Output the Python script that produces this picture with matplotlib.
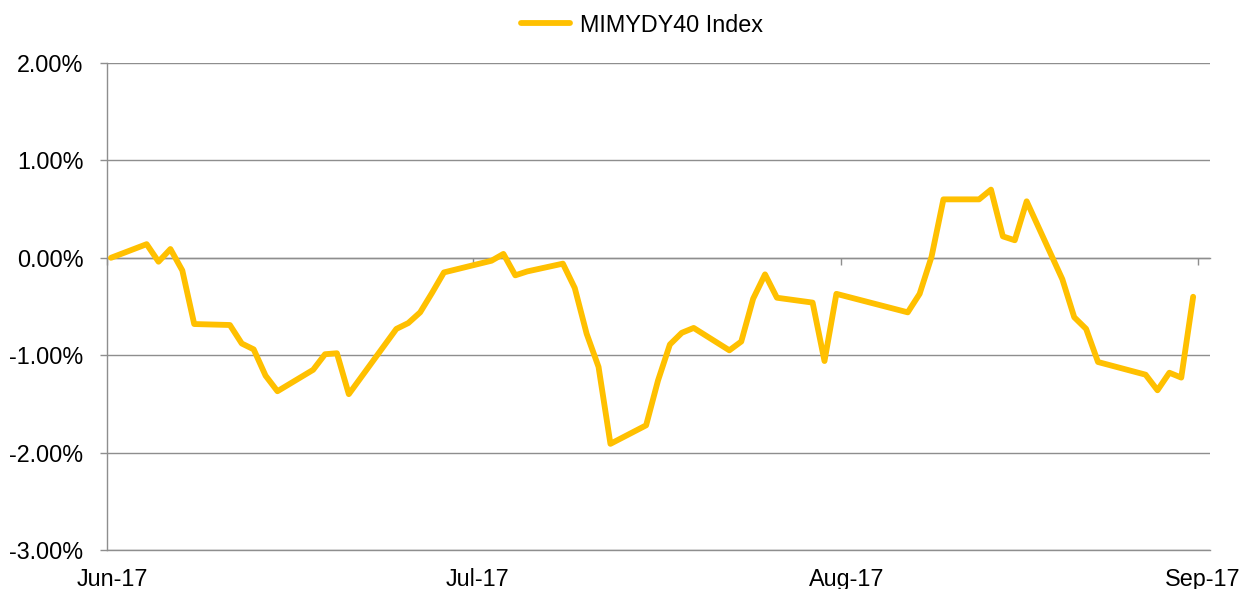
import numpy as np
import pandas as pd
import matplotlib
matplotlib.use("Agg")
import matplotlib.pyplot as plt
import matplotlib.transforms as mtransforms
from matplotlib.ticker import FuncFormatter

plt.rcParams["font.family"] = ["Liberation Sans", "DejaVu Sans"]

# daily values of the index, in percent
dates = [
    "2017-06-02", "2017-06-05", "2017-06-06", "2017-06-07", "2017-06-08", "2017-06-09",
    "2017-06-12", "2017-06-13", "2017-06-14", "2017-06-15", "2017-06-16",
    "2017-06-19", "2017-06-20", "2017-06-21", "2017-06-22",
    "2017-06-26", "2017-06-27", "2017-06-28", "2017-06-29", "2017-06-30",
    "2017-07-04", "2017-07-05", "2017-07-06", "2017-07-07",
    "2017-07-10", "2017-07-11", "2017-07-12", "2017-07-13", "2017-07-14",
    "2017-07-17", "2017-07-18", "2017-07-19", "2017-07-20", "2017-07-21",
    "2017-07-24", "2017-07-25", "2017-07-26", "2017-07-27", "2017-07-28",
    "2017-07-31", "2017-08-01", "2017-08-02",
    "2017-08-08", "2017-08-09", "2017-08-10", "2017-08-11",
    "2017-08-14", "2017-08-15", "2017-08-16", "2017-08-17", "2017-08-18",
    "2017-08-21", "2017-08-22", "2017-08-23", "2017-08-24",
    "2017-08-28", "2017-08-29", "2017-08-30", "2017-08-31", "2017-09-01",
]
werte = [
    0.00, 0.14, -0.04, 0.09, -0.13, -0.68,
    -0.69, -0.88, -0.94, -1.21, -1.37,
    -1.15, -0.99, -0.98, -1.40,
    -0.73, -0.67, -0.56, -0.36, -0.15,
    -0.03, 0.04, -0.18, -0.14,
    -0.06, -0.31, -0.78, -1.12, -1.91,
    -1.72, -1.26, -0.89, -0.77, -0.72,
    -0.95, -0.86, -0.42, -0.17, -0.41,
    -0.46, -1.06, -0.37,
    -0.56, -0.37, 0.01, 0.60,
    0.60, 0.70, 0.22, 0.18, 0.58,
    -0.22, -0.61, -0.73, -1.07,
    -1.20, -1.36, -1.18, -1.23, -0.40,
]
tick_labels = ["Jun-17", "Jul-17", "Aug-17", "Sep-17"]
tick_pos = ["2017-06-01 16:00", "2017-07-02 10:00", "2017-08-02 10:00", "2017-09-01 10:00"]
x_min, x_max = "2017-06-01 16:00", "2017-09-02 10:00"
y_ticks = [-3, -2, -1, 0, 1, 2]

dates = pd.to_datetime(dates)
tick_pos = pd.to_datetime(tick_pos)

gelb = "#FFC000"
grau = "#8E8E8E"
fs = 16.8

fig = plt.figure(figsize=(12.54, 5.89), dpi=100)
ax = fig.add_axes([107 / 1254, 1 - 550 / 589, (1210 - 107) / 1254, (550 - 63) / 589])

ax.plot(dates, werte, color=gelb, lw=4.2, solid_joinstyle="round",
        solid_capstyle="round", label="MIMYDY40 Index", zorder=3)

ax.set_xlim(pd.Timestamp(x_min), pd.Timestamp(x_max))
ax.set_ylim(y_ticks[0], y_ticks[-1])
ax.set_yticks(y_ticks)
ax.yaxis.set_major_formatter(FuncFormatter(lambda v, p: f"{v:.2f}%"))
ax.grid(axis="y", color=grau, lw=1.0)
ax.set_axisbelow(True)

for s in ["top", "right"]:
    ax.spines[s].set_visible(False)
for s in ["left", "bottom"]:
    ax.spines[s].set_color(grau)
    ax.spines[s].set_linewidth(1.0)

ax.tick_params(axis="y", length=5, width=1.0, color=grau, labelsize=fs, pad=12)
ax.set_xticks(tick_pos)
ax.set_xticklabels(tick_labels)
ax.tick_params(axis="x", length=0, labelsize=fs, pad=13)
verschiebung = mtransforms.ScaledTranslation(5 / 100, 0, fig.dpi_scale_trans)
for lab in ax.get_xticklabels():
    lab.set_transform(lab.get_transform() + verschiebung)

# the horizontal axis crosses at 0 %, tick marks sit on that line
null_pos = (0 - y_ticks[0]) / (y_ticks[-1] - y_ticks[0])
sek = ax.secondary_xaxis(null_pos)
sek.set_xticks(tick_pos)
sek.tick_params(axis="x", direction="in", length=5, width=1.0, color=grau, labeltop=False)
sek.spines["top"].set_color(grau)
sek.spines["top"].set_linewidth(1.0)

fig.legend(loc="center", bbox_to_anchor=(642 / 1254, 1 - 25 / 589), frameon=False,
           fontsize=fs, handlelength=2.1, handletextpad=0.4)

plt.savefig("out.png", dpi=100)
